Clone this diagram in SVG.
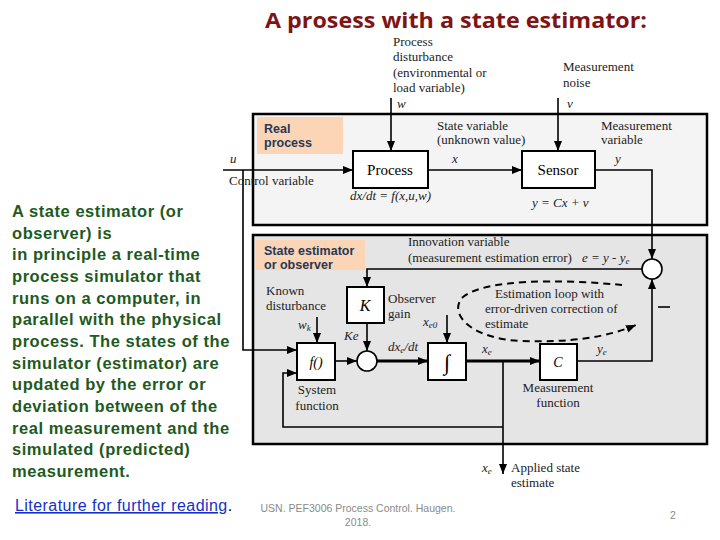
<svg xmlns="http://www.w3.org/2000/svg" width="720" height="540" viewBox="0 0 720 540">
<style>
.lbl{font-family:"Liberation Serif","Times New Roman",serif;font-size:13px;fill:#222}
.it{font-style:italic}
.blk{fill:#fff;stroke:#000;stroke-width:2}
.tag{font-family:"Liberation Sans",Arial,sans-serif;font-size:12.5px;font-weight:bold;fill:#26385a}
.tagbg{fill:#fbd5b5}
.ln{fill:none;stroke:#000;stroke-width:1.6}
.thk{fill:none;stroke:#000;stroke-width:3}
.body{font-family:"Liberation Sans",Arial,sans-serif;font-size:16.5px;font-weight:bold;fill:#1e5a1e;letter-spacing:0.55px}
.foot{font-family:"Liberation Sans",Arial,sans-serif;font-size:10.5px;fill:#8a8a8a}
</style>
<defs>
<marker id="ah" viewBox="0 0 10 8" refX="10" refY="4" markerWidth="10" markerHeight="8" markerUnits="userSpaceOnUse" orient="auto">
<path d="M0 0 L10 4 L0 8 Z" fill="#000"/>
</marker>
</defs>
<rect width="720" height="540" fill="#fff"/>

<text x="456" y="28" text-anchor="middle" font-family="'Open Sans','Liberation Sans',sans-serif" font-size="22" font-weight="bold" fill="#7f1416" textLength="382" lengthAdjust="spacingAndGlyphs">A prosess with a state estimator:</text>

<g id="left-text">
<text class="body" x="12" y="217">A state estimator (or</text>
<text class="body" x="12" y="239">observer) is</text>
<text class="body" x="12" y="260">in principle a real-time</text>
<text class="body" x="12" y="282">process simulator that</text>
<text class="body" x="12" y="304">runs on a computer, in</text>
<text class="body" x="12" y="325">parallel with the physical</text>
<text class="body" x="12" y="347">process. The states of the</text>
<text class="body" x="12" y="369">simulator (estimator) are</text>
<text class="body" x="12" y="390">updated by the error or</text>
<text class="body" x="12" y="412">deviation between of the</text>
<text class="body" x="12" y="434">real measurement and the</text>
<text class="body" x="12" y="455">simulated (predicted)</text>
<text class="body" x="12" y="477">measurement.</text>
<text x="15" y="511" font-family="'Liberation Sans',Arial,sans-serif" font-size="16" letter-spacing="0.45" fill="#1530c8"><tspan text-decoration="underline">Literature for further reading</tspan><tspan fill="#000">.</tspan></text>
</g>

<g id="real-process">
<rect x="253" y="114" width="454" height="111" fill="#f4f4f4" stroke="#000" stroke-width="2.5"/>
<rect class="tagbg" x="257" y="117" width="86" height="37"/>
<text class="tag" x="264" y="133">Real</text>
<text class="tag" x="264" y="147">process</text>
</g>

<g id="state-estimator">
<rect x="253" y="235" width="454" height="209" fill="#e5e5e5" stroke="#000" stroke-width="2.5"/>
<rect class="tagbg" x="256" y="240" width="109" height="30"/>
<text class="tag" x="264" y="255">State estimator</text>
<text class="tag" x="264" y="269">or observer</text>
</g>

<g id="process">
<rect class="blk" x="353" y="151" width="75" height="37"/>
<text x="390" y="175" text-anchor="middle" font-family="'Liberation Serif',serif" font-size="15">Process</text>
</g>
<g id="sensor">
<rect class="blk" x="522" y="151" width="73" height="37"/>
<text x="558" y="175" text-anchor="middle" font-family="'Liberation Serif',serif" font-size="15">Sensor</text>
</g>
<g id="innov-sum">
<circle cx="652" cy="269" r="10" fill="#fff" stroke="#000" stroke-width="1.6"/>
</g>
<g id="gain-K">
<rect class="blk" x="347" y="287" width="37" height="36"/>
<text x="365" y="311" text-anchor="middle" font-family="'Liberation Serif',serif" font-style="italic" font-size="16">K</text>
</g>
<g id="system-f">
<rect class="blk" x="297" y="343" width="38" height="37"/>
<text x="316" y="367" text-anchor="middle" font-family="'Liberation Serif',serif" font-style="italic" font-size="14">f()</text>
</g>
<g id="sum">
<circle cx="367" cy="361" r="10" fill="#fff" stroke="#000" stroke-width="1.6"/>
</g>
<g id="integrator">
<rect class="blk" x="428" y="343" width="38" height="37"/>
<text x="447" y="370" text-anchor="middle" font-family="'Liberation Serif',serif" font-size="22">∫</text>
</g>
<g id="measure-C">
<rect class="blk" x="540" y="344" width="37" height="36"/>
<text x="558" y="367" text-anchor="middle" font-family="'Liberation Serif',serif" font-style="italic" font-size="14">C</text>
</g>

<g id="connectors">
<path class="ln" d="M223 170 H353" marker-end="url(#ah)"/>
<path class="ln" d="M243 170 V350 H297" marker-end="url(#ah)"/>
<path class="ln" d="M391 98 V151" marker-end="url(#ah)"/>
<path class="ln" d="M558 98 V151" marker-end="url(#ah)"/>
<path class="ln" d="M428 170 H522" marker-end="url(#ah)"/>
<path class="ln" d="M595 170 H652 V259" marker-end="url(#ah)"/>
<path class="ln" d="M642 269 H367 V287" marker-end="url(#ah)"/>
<path class="ln" d="M367 323 V351" marker-end="url(#ah)"/>
<path class="ln" d="M317 317 V343" marker-end="url(#ah)"/>
<path class="ln" d="M335 361 H357" marker-end="url(#ah)"/>
<path class="thk" d="M377 361 H428" marker-end="url(#ah)"/>
<path class="ln" d="M447 315 V343" marker-end="url(#ah)"/>
<path class="thk" d="M466 361 H540" marker-end="url(#ah)"/>
<path class="ln" d="M577 361 H652 V279" marker-end="url(#ah)"/>
<path class="ln" d="M503 361 V474" marker-end="url(#ah)"/>
<path class="ln" d="M503 427 H283 V373 H297" marker-end="url(#ah)"/>
<path class="ln" d="M658 307 H670"/>
<path fill="none" stroke="#000" stroke-width="2" stroke-dasharray="7 5" d="M622 285 C560 279 485 279 463 297 C448 312 468 338 520 341 C570 343 608 337 636 325" marker-end="url(#ah)"/>
</g>

<g id="labels">
<text class="lbl" x="393" y="46">Process</text>
<text class="lbl" x="393" y="61">disturbance</text>
<text class="lbl" x="393" y="77">(environmental or</text>
<text class="lbl" x="393" y="92">load variable)</text>
<text class="lbl" x="563" y="71">Measurement</text>
<text class="lbl" x="563" y="87">noise</text>
<text class="lbl it" x="397" y="108">w</text>
<text class="lbl it" x="567" y="108">v</text>
<text class="lbl" x="437" y="130">State variable</text>
<text class="lbl" x="437" y="144">(unknown value)</text>
<text class="lbl" x="601" y="130">Measurement</text>
<text class="lbl" x="601" y="144">variable</text>
<text class="lbl it" x="452" y="163">x</text>
<text class="lbl it" x="615" y="163">y</text>
<text class="lbl it" x="230" y="163">u</text>
<text class="lbl" x="229" y="185">Control variable</text>
<text class="lbl it" x="350" y="200">dx/dt = f(x,u,w)</text>
<text class="lbl it" x="532" y="207">y = Cx + v</text>
<text class="lbl" x="408" y="246">Innovation variable</text>
<text class="lbl" x="408" y="262">(measurement estimation error)</text>
<text class="lbl it" x="582" y="262" font-size="16">e = y - y<tspan font-size="9" dy="2">e</tspan></text>
<text class="lbl" x="266" y="295">Known</text>
<text class="lbl" x="266" y="310">disturbance</text>
<text class="lbl it" x="298" y="329">w<tspan font-size="9" dy="2">k</tspan></text>
<text class="lbl" x="388" y="303">Observer</text>
<text class="lbl" x="388" y="318">gain</text>
<text class="lbl it" x="344" y="340" font-size="15">Ke</text>
<text class="lbl it" x="423" y="326">x<tspan font-size="9" dy="2">e0</tspan></text>
<text class="lbl it" x="388" y="351">dx<tspan font-size="9" dy="2">e</tspan><tspan dy="-2">/dt</tspan></text>
<text class="lbl it" x="482" y="353">x<tspan font-size="9" dy="2">e</tspan></text>
<text class="lbl it" x="597" y="353">y<tspan font-size="9" dy="2">e</tspan></text>
<text class="lbl" x="495" y="298">Estimation loop with</text>
<text class="lbl" x="485" y="313">error-driven correction of</text>
<text class="lbl" x="485" y="328">estimate</text>
<text class="lbl" x="317" y="394" text-anchor="middle">System</text>
<text class="lbl" x="317" y="410" text-anchor="middle">function</text>
<text class="lbl" x="558" y="392" text-anchor="middle">Measurement</text>
<text class="lbl" x="558" y="407" text-anchor="middle">function</text>
<text class="lbl it" x="482" y="472">x<tspan font-size="9" dy="2">e</tspan></text>
<text class="lbl" x="511" y="472">Applied state</text>
<text class="lbl" x="511" y="487">estimate</text>
</g>

<g id="footer">
<text class="foot" x="358" y="512" text-anchor="middle">USN. PEF3006 Process Control. Haugen.</text>
<text class="foot" x="358" y="526" text-anchor="middle">2018.</text>
<text class="foot" x="673" y="519" text-anchor="middle" font-size="11">2</text>
</g>
</svg>
